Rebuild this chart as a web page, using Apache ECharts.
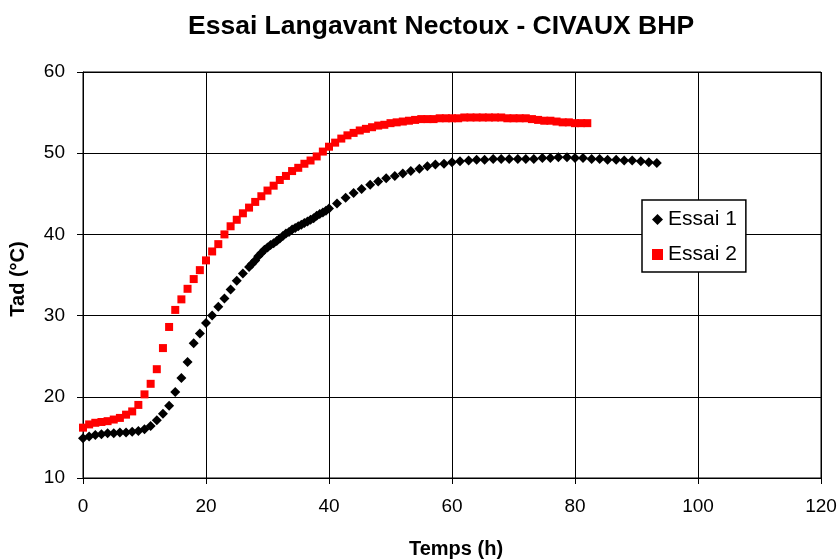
<!DOCTYPE html>
<html><head><meta charset="utf-8">
<script src="https://cdn.jsdelivr.net/npm/echarts@6/dist/echarts.min.js"></script>
<style>html,body{margin:0;padding:0;background:#fff}#c{width:838px;height:559px}</style>
</head><body><div id="c"></div>
<script>
const title = "Essai Langavant Nectoux - CIVAUX BHP";
const xName = "Temps (h)";
const yName = "Tad (°C)";
const seriesNames = ["Essai 1", "Essai 2"];

const t1 = [0,1,2,3,4,5,6,7,8,9,10,11,12,13,14,15,16,17,18,19,20,21,22,23,24,25,26,27,
  27.5,28,28.5,29,29.5,30,30.5,31,31.5,32,32.5,33,33.5,34,34.5,35,35.5,36,36.5,37,37.5,38,38.5,39,39.5,40,
  41.3,42.7,44,45.3,46.7,48,49.3,50.7,52,53.3,54.7,56,57.3,58.7,60,61.3,62.7,64,65.3,66.7,68,69.3,70.7,72,
  73.3,74.7,76,77.3,78.7,80,81.3,82.7,84,85.3,86.7,88,89.3,90.7,92,93.3];
const y1 = [14.9,15.1,15.3,15.4,15.5,15.5,15.6,15.6,15.7,15.8,16.0,16.4,17.1,17.9,18.9,20.6,22.3,24.3,26.6,27.8,29.1,30.0,31.1,32.1,33.2,34.3,35.2,36.0,
  36.4,36.8,37.3,37.7,38.1,38.4,38.7,38.9,39.2,39.5,39.8,40.1,40.3,40.6,40.8,41.0,41.2,41.4,41.6,41.8,42.0,42.3,42.5,42.7,42.9,43.2,
  43.8,44.5,45.1,45.6,46.1,46.5,46.9,47.2,47.5,47.8,48.1,48.4,48.6,48.7,48.9,49.0,49.1,49.2,49.2,49.3,49.3,49.3,49.3,49.3,
  49.3,49.4,49.4,49.5,49.5,49.4,49.4,49.3,49.3,49.2,49.2,49.1,49.1,49.0,48.9,48.8];

const t2 = [0,1,2,3,4,5,6,7,8,9,10,11,12,13,14,15,16,17,18,19,20,21,22,23,24,25,26,27,28,29,30,
  31,32,33,34,35,36,37,38,39,40,41,42,43,44,45,46,47,48,49,50,51,52,53,54,55,56,57,58,59,60,
  61,62,63,64,65,66,67,68,69,70,71,72,73,74,75,76,77,78,79,80,81,82];
const y2 = [16.2,16.6,16.8,16.9,17.0,17.2,17.4,17.8,18.2,19.0,20.3,21.6,23.4,26.0,28.6,30.7,32.0,33.3,34.5,35.6,36.8,37.9,38.8,40.0,41.0,41.8,42.6,43.3,44.0,44.7,45.4,
  46.0,46.7,47.2,47.8,48.2,48.7,49.1,49.6,50.2,50.8,51.3,51.8,52.2,52.5,52.8,53.0,53.2,53.4,53.5,53.7,53.8,53.9,54.0,54.1,54.2,54.2,54.2,54.3,54.3,54.3,
  54.3,54.4,54.4,54.4,54.4,54.4,54.4,54.4,54.3,54.3,54.3,54.3,54.2,54.1,54.0,54.0,53.9,53.8,53.8,53.7,53.7,53.7];

const xMin = 0, xMax = 120, xStep = 20;
const yMin = 10, yMax = 60, yStep = 10;

const font = "Liberation Sans, Arial, sans-serif";
const chart = echarts.init(document.getElementById('c'), null, {renderer: 'canvas'});
chart.setOption({
  animation: false,
  backgroundColor: '#fff',
  title: {
    text: title, left: 183, top: 8,
    textStyle: {fontFamily: font, fontSize: 26.5, fontWeight: 'bold', color: '#000'}
  },
  grid: {left: 83, right: 17, top: 72, bottom: 81, outerBoundsMode: 'none', containLabel: false,
         show: true, borderColor: '#000', borderWidth: 1, backgroundColor: '#fff'},
  legend: {
    orient: 'vertical', left: 642, top: 200,
    backgroundColor: '#fff', borderColor: '#000', borderWidth: 1.5,
    padding: [9, 9, 7, 10], itemGap: 14, itemWidth: 11, itemHeight: 11,
    textStyle: {fontFamily: font, fontSize: 21, color: '#000'},
    data: [{name: seriesNames[0], icon: 'diamond'}, {name: seriesNames[1], icon: 'rect'}]
  },
  xAxis: {
    type: 'value', min: xMin, max: xMax, interval: xStep,
    name: xName, nameLocation: 'middle', nameGap: 58,
    nameTextStyle: {fontFamily: font, fontSize: 20, fontWeight: 'bold', color: '#000', padding: [3, 0, 0, 8]},
    axisLine: {show: true, lineStyle: {color: '#000', width: 1}},
    axisTick: {show: true, inside: false, length: 6, lineStyle: {color: '#000'}},
    axisLabel: {fontFamily: font, fontSize: 19, color: '#000', margin: 19},
    splitLine: {show: true, lineStyle: {color: '#000', width: 1}}
  },
  yAxis: {
    type: 'value', min: yMin, max: yMax, interval: yStep,
    name: yName, nameLocation: 'middle', nameGap: 55, nameRotate: 90,
    nameTextStyle: {fontFamily: font, fontSize: 20, fontWeight: 'bold', color: '#000', padding: [0, 8, 0, 0]},
    axisLine: {show: true, lineStyle: {color: '#000', width: 1}},
    axisTick: {show: true, inside: false, length: 6, lineStyle: {color: '#000'}},
    axisLabel: {fontFamily: font, fontSize: 19, color: '#000', margin: 18},
    splitLine: {show: true, lineStyle: {color: '#000', width: 1}}
  },
  series: [
    {name: seriesNames[0], type: 'scatter', symbol: 'diamond', symbolSize: 10,
     itemStyle: {color: '#000', opacity: 1},
     data: t1.map((t, i) => [t, y1[i]])},
    {name: seriesNames[1], type: 'scatter', symbol: 'rect', symbolSize: 8,
     itemStyle: {color: '#ff0000', opacity: 1},
     data: t2.map((t, i) => [t, y2[i]])}
  ]
});
</script></body></html>
